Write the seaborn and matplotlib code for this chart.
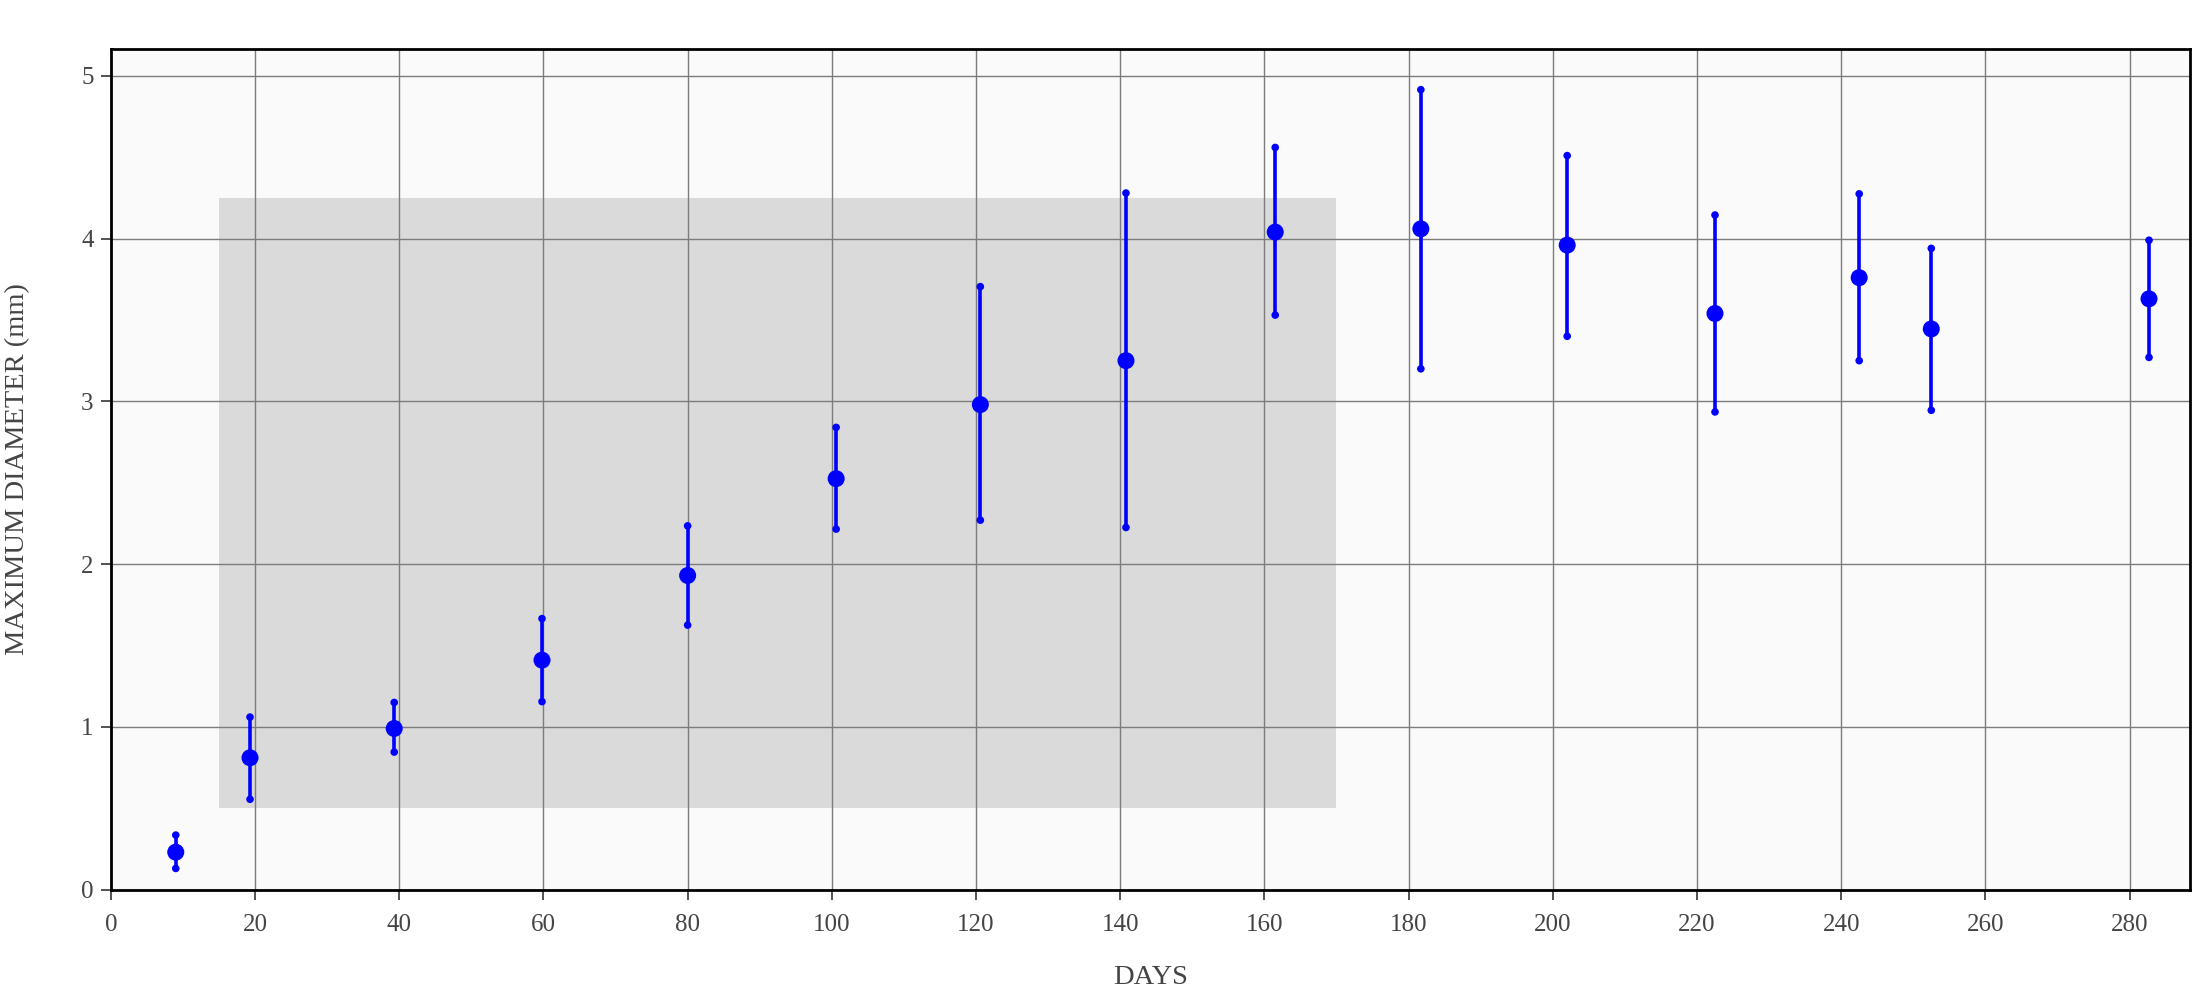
import numpy as np
import pandas as pd
import matplotlib
matplotlib.use('Agg')
import matplotlib.pyplot as plt
import seaborn as sns
from matplotlib.patches import Rectangle

# ── data ───────────────────────────────────────────────────────────
days     = [9.0, 19.3, 39.3, 59.8, 80.0, 100.6, 120.6, 140.8, 161.5, 181.7, 202.0, 222.5, 242.5, 252.5, 282.7]
diam     = [0.23, 0.81, 0.99, 1.41, 1.93, 2.525, 2.98, 3.25, 4.04, 4.06, 3.96, 3.54, 3.76, 3.445, 3.63]
diam_hi  = [0.335, 1.06, 1.15, 1.665, 2.235, 2.84, 3.705, 4.28, 4.56, 4.915, 4.51, 4.145, 4.275, 3.94, 3.99]
diam_lo  = [0.13, 0.555, 0.845, 1.155, 1.625, 2.215, 2.27, 2.225, 3.53, 3.20, 3.40, 2.935, 3.25, 2.945, 3.27]

band_x = [15, 170]
band_y = [0.5, 4.25]

df = pd.DataFrame({'days': days, 'diam': diam, 'hi': diam_hi, 'lo': diam_lo})

sns.set_theme(style='white')
plt.rcParams['font.family'] = ['Liberation Serif', 'DejaVu Serif']

fig = plt.figure(figsize=(22, 10), dpi=100)
ax = fig.add_axes([0.0504, 0.1104, 0.9451, 0.8406])
ax.set_facecolor('#fafafa')

ax.add_patch(Rectangle((band_x[0], band_y[0]), band_x[1] - band_x[0], band_y[1] - band_y[0],
                       facecolor='#dadada', edgecolor='none', zorder=0.2))

ax.vlines(df['days'], df['lo'], df['hi'], color='#0000ff', lw=2.6, zorder=3)
ends = pd.concat([df[['days']].assign(v=df['lo']), df[['days']].assign(v=df['hi'])])
sns.scatterplot(data=ends, x='days', y='v', ax=ax, color='#0000ff', s=30,
                edgecolor='none', zorder=4)
sns.scatterplot(data=df, x='days', y='diam', ax=ax, color='#0000ff', s=150,
                edgecolor='none', zorder=5)

ax.set_xlim(0, 288.4)
ax.set_ylim(0, 5.165)
ax.set_xticks(np.arange(0, 281, 20))
ax.set_yticks(np.arange(0, 6, 1))
ax.grid(True, color='#7c7c7c', lw=1.0)

for s in ax.spines.values():
    s.set_color('black')
    s.set_linewidth(2)

ax.tick_params(axis='both', which='both', direction='out', length=7.5, width=1.3,
               color='#444444', labelcolor='#444444', labelsize=18,
               bottom=True, left=True)
ax.tick_params(axis='x', pad=10)
ax.tick_params(axis='y', pad=5)

ax.set_xlabel('DAYS', fontsize=20.5, color='#444444', va='center')
ax.xaxis.set_label_coords(0.5, -0.105)
ax.set_ylabel('MAXIMUM DIAMETER (mm)', fontsize=20.5, color='#444444', va='center')
ax.yaxis.set_label_coords(-0.0447, 0.5)

fig.savefig('out.png', dpi=100)
